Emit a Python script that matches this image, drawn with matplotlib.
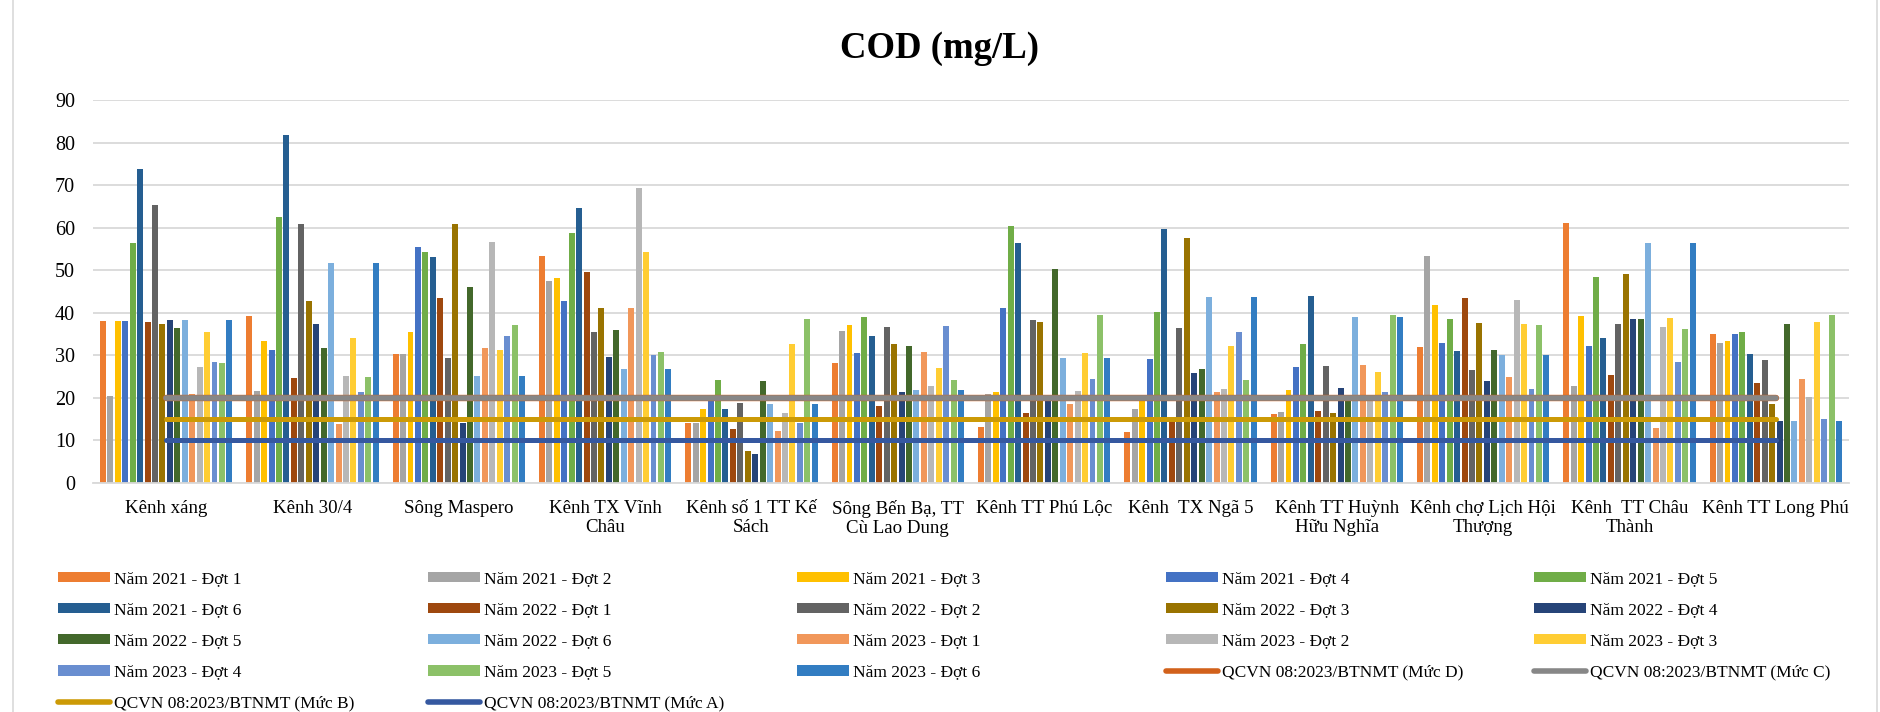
import matplotlib
matplotlib.use("Agg")
import matplotlib.pyplot as plt
import numpy as np
from matplotlib.lines import Line2D
from matplotlib.patches import Patch

plt.rcParams['font.family'] = ['Liberation Serif', 'DejaVu Serif']

categories = ["Kênh xáng", "Kênh 30/4", "Sông Maspero", "Kênh TX Vĩnh\nChâu",
              "Kênh số 1 TT Kế\nSách", "Sông Bến Bạ, TT\nCù Lao Dung", "Kênh TT Phú Lộc",
              "Kênh  TX Ngã 5", "Kênh TT Huỳnh\nHữu Nghĩa", "Kênh chợ Lịch Hội\nThượng",
              "Kênh  TT Châu\nThành", "Kênh TT Long Phú"]

y2021_d1 = [38.1, 39.2, 30.4, 53.4, 14.0, 28.3, 13.1, 12.0, 16.3, 31.9, 61.0, 35.0]
y2021_d2 = [20.5, 21.7, 30.4, 47.4, 14.0, 35.8, 20.9, 17.4, 16.7, 53.4, 22.9, 33.0]
y2021_d3 = [38.1, 33.3, 35.5, 48.2, 17.4, 37.1, 21.4, 19.5, 21.9, 41.9, 39.2, 33.3]
y2021_d4 = [38.1, 31.3, 55.4, 42.8, 19.5, 30.6, 41.2, 29.2, 27.3, 32.9, 32.1, 35.0]
y2021_d5 = [56.3, 62.4, 54.2, 58.8, 24.3, 39.0, 60.3, 40.3, 32.6, 38.6, 48.4, 35.4]
y2021_d6 = [73.9, 81.8, 53.1, 64.6, 17.4, 34.5, 56.3, 59.6, 44.0, 31.0, 34.1, 30.4]
y2022_d1 = [37.9, 24.7, 43.4, 49.5, 12.8, 18.1, 16.5, 14.5, 16.9, 43.4, 25.4, 23.5]
y2022_d2 = [65.4, 60.8, 29.3, 35.5, 18.9, 36.6, 38.3, 36.4, 27.5, 26.5, 37.3, 28.8]
y2022_d3 = [37.3, 42.8, 60.8, 41.2, 7.5, 32.7, 37.8, 57.6, 16.5, 37.6, 49.1, 18.6]
y2022_d4 = [38.2, 37.3, 14.2, 29.7, 6.9, 21.5, 19.8, 25.9, 22.3, 24.0, 38.5, 14.6]
y2022_d5 = [36.5, 31.8, 46.1, 35.9, 24.0, 32.3, 50.3, 26.8, 19.6, 31.3, 38.5, 37.3]
y2022_d6 = [38.2, 51.6, 25.2, 26.8, 18.6, 21.8, 29.4, 43.7, 39.0, 30.0, 56.3, 14.6]
y2023_d1 = [20.9, 13.8, 31.7, 41.2, 12.2, 30.8, 18.6, 21.4, 27.7, 25.0, 12.9, 24.5]
y2023_d2 = [27.2, 25.2, 56.7, 69.3, 16.4, 22.8, 21.7, 22.1, 19.8, 43.0, 36.7, 20.3]
y2023_d3 = [35.6, 34.0, 31.3, 54.3, 32.7, 27.1, 30.5, 32.2, 26.2, 37.3, 38.8, 37.9]
y2023_d4 = [28.5, 21.3, 34.6, 30.1, 14.2, 36.9, 24.4, 35.6, 21.3, 22.1, 28.5, 15.0]
y2023_d5 = [28.2, 25.0, 37.1, 30.8, 38.6, 24.3, 39.4, 24.3, 39.4, 37.1, 36.2, 39.4]
y2023_d6 = [38.2, 51.6, 25.2, 26.8, 18.6, 21.8, 29.4, 43.7, 39.0, 30.0, 56.3, 14.6]

qcvn_d = [20] * 12
qcvn_c = [20] * 12
qcvn_b = [15] * 12
qcvn_a = [10] * 12

series_labels = [f"Năm {y} - Đợt {d}" for y in (2021, 2022, 2023) for d in range(1, 7)]
series_values = [y2021_d1, y2021_d2, y2021_d3, y2021_d4, y2021_d5, y2021_d6,
                 y2022_d1, y2022_d2, y2022_d3, y2022_d4, y2022_d5, y2022_d6,
                 y2023_d1, y2023_d2, y2023_d3, y2023_d4, y2023_d5, y2023_d6]
series_colors = ["#ED7D31", "#A5A5A5", "#FFC000", "#4472C4", "#70AD47", "#255E91",
                 "#9E480E", "#636363", "#997300", "#264478", "#43682B", "#7CAFDD",
                 "#F1975A", "#B7B7B7", "#FFCD33", "#698ED0", "#8CC168", "#327DC2"]

line_labels = ["QCVN 08:2023/BTNMT (Mức D)", "QCVN 08:2023/BTNMT (Mức C)",
               "QCVN 08:2023/BTNMT (Mức B)", "QCVN 08:2023/BTNMT (Mức A)"]
line_values = [qcvn_d, qcvn_c, qcvn_b, qcvn_a]
line_colors = ["#D2611B", "#878787", "#CC9A06", "#3558A0"]
line_widths = [4.6, 4.0, 3.6, 3.6]

W, H = 1880, 712
fig = plt.figure(figsize=(W / 100, H / 100), dpi=100)
ax = fig.add_axes([93 / W, 1 - 483 / H, (1849 - 93) / W, (483 - 100) / H])

x = np.arange(len(categories))
n = len(series_values)
group_w = 0.915
slot = group_w / n
bw = slot * 0.8
for i, (vals, col) in enumerate(zip(series_values, series_colors)):
    ax.bar(x - group_w / 2 + slot * (i + 0.5), vals, width=bw, color=col, zorder=2)

for vals, col, lw in zip(line_values, line_colors, line_widths):
    ax.plot(x, vals, color=col, lw=lw, solid_capstyle='round', zorder=3)

ax.set_xlim(-0.5, len(categories) - 0.5)
ax.set_ylim(0, 90)
ax.set_yticks(range(0, 91, 10))
ax.set_xticks(x)
ax.set_xticklabels(categories, linespacing=1.2)
ax.grid(axis='y', color='#D9D9D9', lw=1.3, zorder=0)
for s in ('left', 'right', 'top'):
    ax.spines[s].set_visible(False)
ax.spines['bottom'].set_color('#D9D9D9')
ax.spines['bottom'].set_linewidth(1.3)
ax.tick_params(axis='y', length=0, labelsize=14.5, pad=13)
ax.tick_params(axis='x', length=0, labelsize=13.6, pad=12)

fig.text(0.5, 1 - 48 / H, "COD (mg/L)", ha='center', va='center',
         fontsize=26.5, fontweight='bold')

# legend (row-major order in 5 columns)
handles = [Patch(facecolor=c) for c in series_colors] + \
          [Line2D([], [], color=c, lw=4, solid_capstyle='round') for c in line_colors]
labels = series_labels + line_labels
col_x = [58, 428, 797, 1166, 1534]
for j in range(5):
    hs = handles[j::5]
    ls = labels[j::5]
    fig.legend(hs, ls, loc='upper left', bbox_to_anchor=(col_x[j] / W, 1 - 571 / H),
               frameon=False, fontsize=12.5, handlelength=3.0, handleheight=0.57,
               handletextpad=0.25, labelspacing=0.87, borderpad=0, borderaxespad=0)

for xx in (13, 1877):
    fig.add_artist(Line2D([xx / W, xx / W], [0, 1], transform=fig.transFigure,
                          color='#D9D9D9', lw=1.2))

fig.savefig("out.png", dpi=100)
